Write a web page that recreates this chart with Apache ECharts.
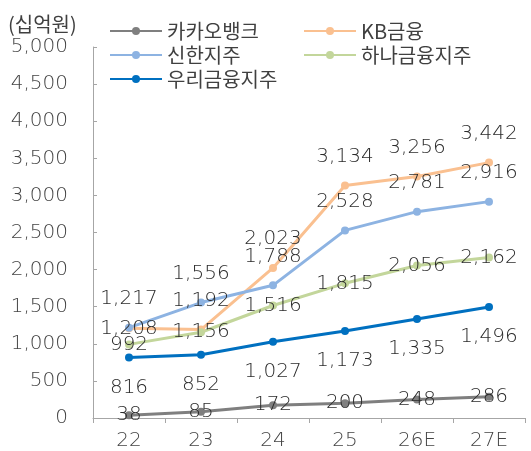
<!DOCTYPE html>
<html>
<head>
<meta charset="utf-8">
<script src="https://cdn.jsdelivr.net/npm/echarts@6/dist/echarts.min.js"></script>
<style>
  html, body { margin: 0; padding: 0; background: #fff; }
  #chart { width: 531px; height: 451px; }
</style>
</head>
<body>
<div id="chart"></div>
<script>
const years = ['22', '23', '24', '25', '26E', '27E']
const kakao = [38, 85, 172, 200, 248, 286]
const kb = [1208, 1192, 2023, 3134, 3256, 3442]
const shinhan = [1217, 1556, 1788, 2528, 2781, 2916]
const hana = [992, 1156, 1516, 1815, 2056, 2162]
const woori = [816, 852, 1027, 1173, 1335, 1496]

const numFont = '"DejaVu Sans", sans-serif'
const krFont = '"Noto Sans CJK KR", sans-serif'
const fmt = v => Number(v).toLocaleString('en-US')

const labelStyle = (position, distance) => ({
  show: true,
  position: position,
  distance: distance,
  color: '#2b2b2b',
  fontSize: 20,
  fontWeight: 300,
  fontFamily: numFont,
  formatter: p => fmt(p.value)
})

const lineSeries = (name, data, color, label) => ({
  name: name,
  type: 'line',
  data: data,
  symbol: 'circle',
  symbolSize: 8,
  itemStyle: { color: color },
  lineStyle: { color: color, width: 3 },
  label: label,
  labelLayout: { hideOverlap: false }
})

const myChart = echarts.init(document.getElementById('chart'))

const legendBase = {
  orient: 'vertical',
  itemWidth: 52,
  itemHeight: 10,
  itemGap: 4,
  textStyle: { color: '#404040', fontSize: 20, fontFamily: krFont, lineHeight: 20 }
}

// KB 22 label sits on its point
const kbData = kb.map((v, i) => i === 0 ? { value: v, label: { position: 'inside' } } : v)

myChart.setOption({
  animation: false,
  title: {
    text: '(십억원)',
    left: 3,
    top: 9,
    textStyle: { color: '#404040', fontSize: 20, fontWeight: 'normal', fontFamily: krFont }
  },
  legend: [
    Object.assign({ left: 104, top: 16, data: ['카카오뱅크', '신한지주', '우리금융지주'] }, legendBase),
    Object.assign({ left: 298, top: 16, data: ['KB금융', '하나금융지주'] }, legendBase)
  ],
  grid: { left: 93, right: 6, top: 47, bottom: 33 },
  xAxis: {
    type: 'category',
    data: years,
    boundaryGap: true,
    axisLine: { lineStyle: { color: '#a6a6a6', width: 1 } },
    axisTick: { show: true, length: 5, lineStyle: { color: '#a6a6a6' } },
    axisLabel: { color: '#444444', fontSize: 20, fontWeight: 300, fontFamily: numFont, margin: 13 }
  },
  yAxis: {
    type: 'value',
    min: 0,
    max: 5000,
    interval: 500,
    axisLine: { show: true, lineStyle: { color: '#a6a6a6', width: 1 } },
    axisTick: { show: true, inside: true, length: 4, lineStyle: { color: '#a6a6a6' } },
    splitLine: { show: false },
    axisLabel: { color: '#444444', fontSize: 20, fontWeight: 300, fontFamily: numFont, margin: 25, formatter: v => fmt(v) }
  },
  series: [
    lineSeries('카카오뱅크', kakao, '#7f7f7f', labelStyle('inside', 0)),
    lineSeries('KB금융', kbData, '#fac090', labelStyle('top', 15)),
    lineSeries('신한지주', shinhan, '#8db3e2', labelStyle('top', 15)),
    lineSeries('하나금융지주', hana, '#c3d69b', labelStyle('inside', 0)),
    lineSeries('우리금융지주', woori, '#0070c0', labelStyle('bottom', 16))
  ]
})

window.addEventListener('resize', () => {
  myChart.resize()
})
</script>
</body>
</html>
